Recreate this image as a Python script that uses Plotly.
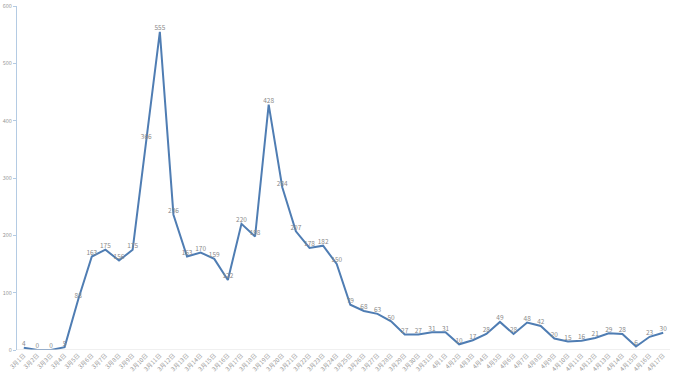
import plotly.graph_objects as go

dates = [f"3月{d}日" for d in range(1, 32)] + [f"4月{d}日" for d in range(1, 18)]
values = [4, 0, 0, 5, 88, 163, 175, 156, 175, 366, 555, 236, 163, 170, 159, 122,
          220, 198, 428, 284, 207, 178, 182, 150, 79, 68, 63, 50, 27, 27, 31,
          31, 10, 17, 28, 49, 28, 48, 42, 20, 15, 16, 21, 29, 28, 6, 23, 30]
y_ticks = [0, 100, 200, 300, 400, 500, 600]

fig = go.Figure()
fig.add_trace(go.Scatter(
    x=list(range(len(dates))), y=values, mode="lines+text",
    text=[str(v) for v in values], textposition="top center",
    textfont=dict(size=6.5, color="#8a8a8a", family="Noto Sans CJK SC"),
    line=dict(color="#4f7db3", width=2),
    hoverinfo="skip", cliponaxis=False,
))
fig.update_layout(
    width=677, height=377, margin=dict(l=17, r=7, t=6, b=27),
    paper_bgcolor="white", plot_bgcolor="white", showlegend=False,
    font=dict(family="Noto Sans CJK SC", size=6, color="#999999"),
)
fig.update_xaxes(
    tickmode="array", tickvals=list(range(len(dates))), ticktext=dates,
    range=[-0.5, len(dates) - 0.5], tickangle=-45, automargin=False,
    showgrid=False, zeroline=False, showline=False,
    ticks="", tickfont=dict(size=6, color="#999999"),
)
fig.update_yaxes(
    range=[0, 600], tickvals=y_ticks, showgrid=False, zeroline=False,
    showline=True, linecolor="#b4cbe3", linewidth=1, automargin=False,
    ticks="outside", ticklen=3, tickcolor="#b4cbe3",
    ticklabeloverflow="allow",
    tickfont=dict(size=5.5, color="#999999"),
)
fig.add_shape(type="line", xref="paper", yref="y", x0=0, x1=1, y0=0, y1=0,
              line=dict(color="#e0e0e0", width=1))
fig.write_html("out.html")
